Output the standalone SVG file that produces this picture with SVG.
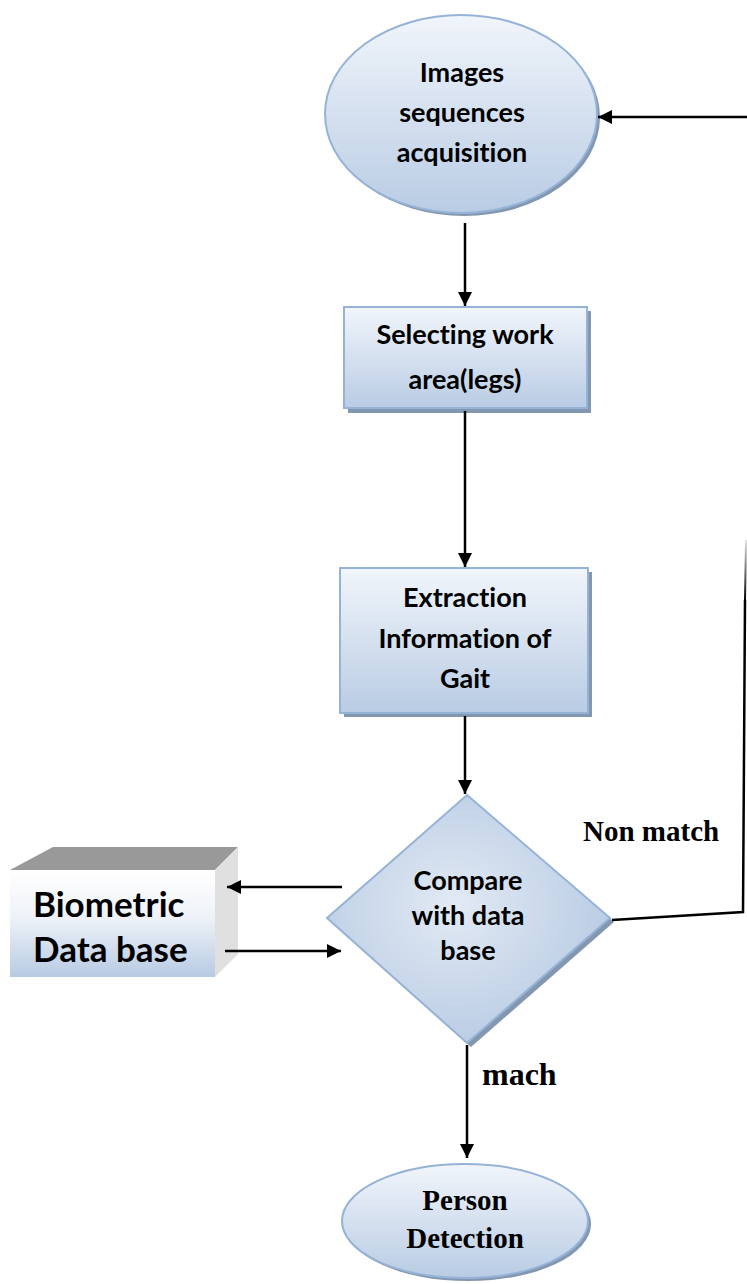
<svg xmlns="http://www.w3.org/2000/svg" width="747" height="1284" viewBox="0 0 747 1284">
  <defs>
    <linearGradient id="fillV" x1="0" y1="0" x2="0" y2="1">
      <stop offset="0" stop-color="#f1f5fb"/>
      <stop offset="1" stop-color="#b9cce4"/>
    </linearGradient>
    <radialGradient id="fillDiamond" cx="0.45" cy="0.45" r="0.6">
      <stop offset="0" stop-color="#e2eaf4"/>
      <stop offset="1" stop-color="#b7cae3"/>
    </radialGradient>
    <linearGradient id="fillDb" x1="0" y1="0" x2="0" y2="1">
      <stop offset="0" stop-color="#ffffff"/>
      <stop offset="0.45" stop-color="#eef2f8"/>
      <stop offset="1" stop-color="#b7cae3"/>
    </linearGradient>
    <linearGradient id="fadeUp" gradientUnits="userSpaceOnUse" x1="0" y1="540" x2="0" y2="600">
      <stop offset="0" stop-color="#000" stop-opacity="0.1"/>
      <stop offset="1" stop-color="#000" stop-opacity="1"/>
    </linearGradient>
    <marker id="arrow" viewBox="0 0 14 14" refX="14" refY="7" markerWidth="14" markerHeight="14" markerUnits="userSpaceOnUse" orient="auto">
      <path d="M0,0 L14,7 L0,14 Z" fill="#000"/>
    </marker>
  </defs>
  <style>
    .shape { stroke: #95b3d7; stroke-width: 2; }
    .shadow { fill: #8497b0; }
    .lbl { font-family: "Lato", "Liberation Sans", sans-serif; font-weight: bold; font-size: 27px; fill: #000; text-anchor: middle; font-variant-ligatures: none; }
    .big { font-size: 35px; text-anchor: start; }
    .serif { font-family: "Liberation Serif", "Times New Roman", serif; font-weight: bold; font-size: 29px; fill: #000; }
    .mid { text-anchor: middle; }
    .large { font-size: 32px; }
    .conn { stroke: #000; stroke-width: 2.5; fill: none; }
  </style>

  <rect width="747" height="1284" fill="#fff"/>

  <!-- start: image acquisition -->
  <g id="node-acquisition">
    <ellipse class="shadow" cx="464" cy="117" rx="136" ry="99"/>
    <ellipse class="shape" cx="461" cy="114" rx="136" ry="99" fill="url(#fillV)"/>
    <text class="lbl" x="462" y="82">Images</text>
    <text class="lbl" x="462" y="122">sequences</text>
    <text class="lbl" x="462" y="162">acquisition</text>
  </g>

  <!-- work area selection -->
  <g id="node-selecting">
    <rect class="shadow" x="348" y="311" width="243" height="102"/>
    <rect class="shape" x="344" y="307" width="243" height="101" fill="url(#fillV)"/>
    <text class="lbl" x="465" y="344">Selecting work</text>
    <text class="lbl" x="465" y="389">area(legs)</text>
  </g>

  <!-- gait feature extraction -->
  <g id="node-extraction">
    <rect class="shadow" x="344" y="572" width="248" height="145"/>
    <rect class="shape" x="340" y="568" width="248" height="145" fill="url(#fillV)"/>
    <text class="lbl" x="465" y="607">Extraction</text>
    <text class="lbl" x="465" y="648">Information of</text>
    <text class="lbl" x="465" y="688">Gait</text>
  </g>

  <!-- decision: compare with database -->
  <g id="node-compare">
    <polygon class="shadow" points="471,799 614,922 471,1047 331,922"/>
    <polygon class="shape" points="467,795 610,918 467,1043 327,918" fill="url(#fillDiamond)"/>
    <text class="lbl" x="468" y="890">Compare</text>
    <text class="lbl" x="468" y="925">with data</text>
    <text class="lbl" x="468" y="960">base</text>
  </g>

  <!-- biometric database block -->
  <g id="node-database">
    <polygon points="10,870 53,847 238,847 215,870" fill="#999999"/>
    <polygon points="215,870 238,847 238,954 215,977" fill="#e0e0e0"/>
    <rect x="10" y="870" width="205" height="107" fill="url(#fillDb)"/>
    <text class="lbl big" x="33" y="917">Biometric</text>
    <text class="lbl big" x="33" y="962">Data base</text>
  </g>

  <!-- end: person detection -->
  <g id="node-detection">
    <ellipse class="shadow" cx="468" cy="1224" rx="123" ry="57"/>
    <ellipse class="shape" cx="465" cy="1221" rx="123" ry="57" fill="url(#fillV)"/>
    <text class="serif mid" x="465" y="1210">Person</text>
    <text class="serif mid" x="465" y="1248">Detection</text>
  </g>

  <!-- flow connectors, drawn over the shapes -->
  <g id="connectors">
    <line class="conn" x1="465" y1="223" x2="465" y2="306" marker-end="url(#arrow)"/>
    <line class="conn" x1="465" y1="411" x2="465" y2="567" marker-end="url(#arrow)"/>
    <line class="conn" x1="465" y1="716" x2="465" y2="794" marker-end="url(#arrow)"/>
    <line class="conn" x1="467" y1="1045" x2="467" y2="1158" marker-end="url(#arrow)"/>
    <line class="conn" x1="342" y1="887" x2="227" y2="887" marker-end="url(#arrow)"/>
    <line class="conn" x1="225" y1="951" x2="341" y2="951" marker-end="url(#arrow)"/>
    <!-- non-match return path -->
    <polyline class="conn" stroke-width="2" points="612,920 743,912 745,600"/>
    <line x1="745" y1="600" x2="746" y2="540" stroke="url(#fadeUp)" stroke-width="2"/>
    <line class="conn" x1="747" y1="117" x2="598" y2="117" stroke-width="3" marker-end="url(#arrow)"/>
  </g>

  <!-- branch labels -->
  <g id="labels">
    <text class="serif" x="583" y="841">Non match</text>
    <text class="serif large" x="482" y="1085">mach</text>
  </g>
</svg>
